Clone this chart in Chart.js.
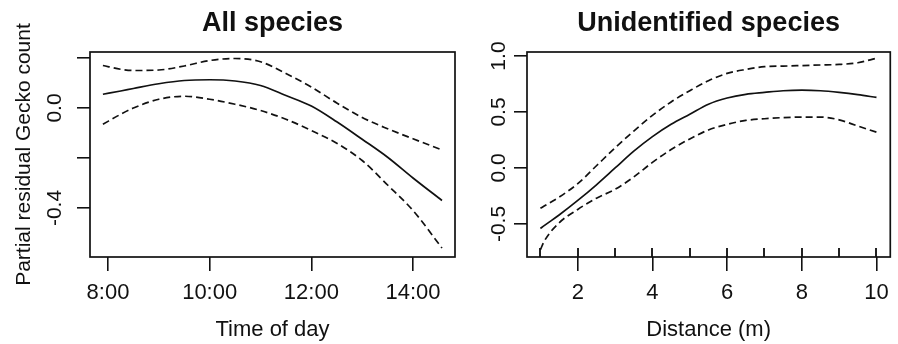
<!DOCTYPE html>
<html>
<head>
<meta charset="utf-8">
<script src="https://cdn.jsdelivr.net/npm/chart.js@4.4.1/dist/chart.umd.min.js"></script>
<style>
	body { margin: 0; background: #fff; }
	canvas { position: absolute; top: 0; }
	#leftChart { left: 0; }
	#rightChart { left: 460px; }
</style>
</head>
<body>
<canvas id="leftChart" width="460" height="344"></canvas>
<canvas id="rightChart" width="438" height="344"></canvas>
<script>
// left panel: all species, partial residual vs time of day (hours)
const timeHours = [7.9, 8.25, 8.5, 9, 9.5, 10, 10.5, 11, 11.5, 12, 12.5, 13, 13.5, 14, 14.57];
const timeFit   = [0.055, 0.068, 0.078, 0.097, 0.11, 0.113, 0.108, 0.09, 0.05, 0.008, -0.055, -0.125, -0.197, -0.28, -0.37];
const timeUpper = [0.17, 0.155, 0.15, 0.152, 0.168, 0.19, 0.198, 0.185, 0.138, 0.084, 0.02, -0.038, -0.083, -0.123, -0.168];
const timeLower = [-0.065, -0.025, 0.0, 0.035, 0.047, 0.035, 0.015, -0.01, -0.045, -0.09, -0.141, -0.21, -0.308, -0.41, -0.56];
const hourTicks = [8, 10, 12, 14];
const hourLabels = ['8:00', '10:00', '12:00', '14:00'];
const timeYTicks = [0.2, 0.0, -0.2, -0.4];
const timeYLabels = ['', '0.0', '', '-0.4'];

// right panel: unidentified species vs distance (m)
const distance  = [1, 1.1, 1.5, 2, 2.5, 3, 3.5, 4, 4.5, 5, 5.5, 6, 6.5, 7, 7.5, 8, 8.5, 9, 9.5, 10];
const distFit   = [-0.54, -0.515, -0.42, -0.29, -0.15, 0.0, 0.15, 0.28, 0.39, 0.48, 0.57, 0.625, 0.658, 0.675, 0.69, 0.695, 0.69, 0.675, 0.655, 0.63];
const distUpper = [-0.36, -0.34, -0.26, -0.14, 0.02, 0.18, 0.33, 0.47, 0.59, 0.69, 0.78, 0.845, 0.88, 0.905, 0.91, 0.915, 0.92, 0.925, 0.94, 0.98];
const distLower = [-0.73, -0.655, -0.49, -0.37, -0.27, -0.19, -0.08, 0.05, 0.165, 0.26, 0.34, 0.39, 0.425, 0.44, 0.45, 0.455, 0.455, 0.43, 0.375, 0.32];
const distTicks = [2, 4, 6, 8, 10];
const distYTicks = [1.0, 0.5, 0.0, -0.5];
const rugDistance = [1, 2, 3, 4, 5, 6, 7, 8, 9, 10];

const FONT = "'Liberation Sans', Arial, sans-serif";
const INK = '#111';

// box round the plot region, like R's box()
const boxPlugin = {
	id: 'box',
	afterDraw(chart) {
		const a = chart.chartArea;
		const ctx = chart.ctx;
		ctx.save();
		ctx.strokeStyle = INK;
		ctx.lineWidth = 1.7;
		ctx.strokeRect(a.left, a.top, a.right - a.left, a.bottom - a.top);
		ctx.restore();
	}
};

function toPoints(xs, ys) {
	return xs.map((x, i) => ({x: x, y: ys[i]}));
}

function lineSet(xs, ys, dashed) {
	return {
		data: toPoints(xs, ys),
		borderColor: INK,
		borderWidth: 1.7,
		borderDash: dashed ? [7, 4] : [],
		pointRadius: 0,
		cubicInterpolationMode: 'monotone',
		fill: false
	};
}

function rugMark() {
	// half transparent so the visible stroke sits inside the plot, on the bottom edge
	const c = document.createElement('canvas');
	c.width = 2;
	c.height = 18;
	const g = c.getContext('2d');
	g.fillStyle = '#222';
	g.fillRect(0, 0, 2, 9);
	return c;
}

function xAxis(min, max, ticks, labelFor, title) {
	return {
		type: 'linear',
		min: min,
		max: max,
		afterBuildTicks: s => { s.ticks = ticks.map(v => ({value: v})); },
		afterFit: s => { s.height = 87; },
		border: {display: false},
		grid: {drawOnChartArea: false, drawTicks: true, tickLength: 14, color: INK, lineWidth: 1.6},
		ticks: {color: INK, font: {family: FONT, size: 22}, padding: 9, maxRotation: 0, callback: labelFor},
		title: {display: true, text: title, color: INK, font: {family: FONT, size: 22}, padding: {top: 0, bottom: 1}}
	};
}

function yAxis(min, max, ticks, labelFor, width, pad, title) {
	const y = {
		type: 'linear',
		min: min,
		max: max,
		afterBuildTicks: s => { s.ticks = ticks.map(v => ({value: v})); },
		afterFit: s => { s.width = width; },
		border: {display: false},
		grid: {drawOnChartArea: false, drawTicks: true, tickLength: 13, color: INK, lineWidth: 1.6},
		ticks: {color: INK, font: {family: FONT, size: 21}, padding: pad, minRotation: 90, maxRotation: 90, crossAlign: 'center', callback: labelFor}
	};
	if (title) {
		y.title = {display: true, text: title, color: INK, font: {family: FONT, size: 21}, padding: {top: 12, bottom: 0}};
	}
	return y;
}

function titleOpts(text) {
	return {
		display: true,
		text: text,
		color: INK,
		fullSize: false,
		font: {family: FONT, size: 27, weight: 'bold'},
		padding: {top: 7, bottom: 12.6}
	};
}

function drawLeft() {
	new Chart(document.getElementById('leftChart'), {
		type: 'line',
		data: {
			datasets: [
				lineSet(timeHours, timeUpper, true),
				lineSet(timeHours, timeFit, false),
				lineSet(timeHours, timeLower, true)
			]
		},
		options: {
			responsive: false,
			animation: false,
			devicePixelRatio: 1,
			layout: {padding: {left: 0, right: 5, top: 0, bottom: 0}},
			plugins: {legend: {display: false}, tooltip: {enabled: false}, title: titleOpts('All species')},
			scales: {
				x: xAxis(7.646, 14.826, hourTicks, v => hourLabels[hourTicks.indexOf(v)], 'Time of day'),
				y: yAxis(-0.596, 0.224, timeYTicks, v => timeYLabels[timeYTicks.indexOf(v)], 90, 4, 'Partial residual Gecko count')
			}
		},
		plugins: [boxPlugin]
	});
}

function drawRight() {
	const yMin = -0.795;
	new Chart(document.getElementById('rightChart'), {
		type: 'line',
		data: {
			datasets: [
				lineSet(distance, distUpper, true),
				lineSet(distance, distFit, false),
				lineSet(distance, distLower, true),
				{
					type: 'scatter',
					data: rugDistance.map(d => ({x: d, y: yMin})),
					pointStyle: rugMark(),
					pointRadius: 5,
					showLine: false,
					clip: false
				}
			]
		},
		options: {
			responsive: false,
			animation: false,
			devicePixelRatio: 1,
			layout: {padding: {left: 0, right: 6, top: 0, bottom: 0}},
			plugins: {legend: {display: false}, tooltip: {enabled: false}, title: titleOpts('Unidentified species')},
			scales: {
				x: xAxis(0.64, 10.37, distTicks, v => String(v), 'Distance (m)'),
				y: yAxis(yMin, 1.036, distYTicks, v => v.toFixed(1), 67, -3, null)
			}
		},
		plugins: [boxPlugin]
	});
}

drawLeft();
drawRight();
</script>
</body>
</html>
